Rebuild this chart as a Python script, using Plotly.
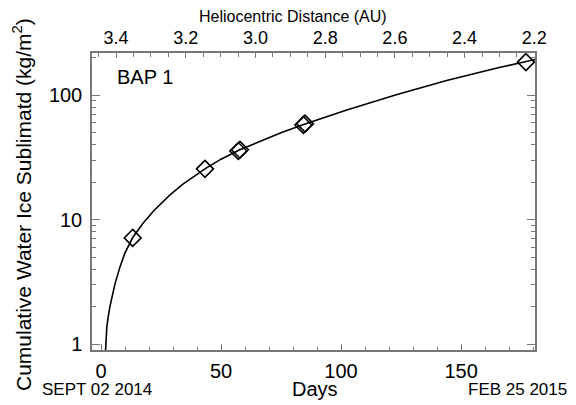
import plotly.graph_objects as go

# ---- data ----
curve_days = [1.9, 2.4, 3.0, 3.75, 5.8, 7.9, 10, 13.2, 17.6, 22, 28.75, 34, 43.3, 50,
              57.6, 69, 75, 85, 102.4, 123, 144, 165, 177, 181]
curve_vals = [0.88, 1.36, 1.66, 2.02, 3.04, 4.18, 5.42, 7.19, 9.4, 11.8, 15.8, 19.2, 25.6, 30.6,
              36.2, 44.8, 49.9, 58.7, 76.0, 100.8, 130.8, 165.0, 185.5, 193.5]
marker_days = [13.2, 43.3, 57.2, 57.9, 84.3, 85.0, 177]
marker_vals = [7.14, 25.6, 35.6, 36.4, 57.6, 59.0, 184]
helio_ticks = [3.4, 3.2, 3.0, 2.8, 2.6, 2.4, 2.2]
helio_range = [3.469, 2.198]
day_range = [-3.75, 180.8]
day_ticks = [0, 50, 100, 150]
y_major = [1, 10, 100]
y_minor = [2, 3, 4, 5, 6, 7, 8, 9, 20, 30, 40, 50, 60, 70, 80, 90, 200]

FONT = "Liberation Sans"
AXC = "#777777"

fig = go.Figure()
fig.add_trace(go.Scatter(x=curve_days, y=curve_vals, mode="lines",
                         line=dict(color="black", width=1.6), showlegend=False))
fig.add_trace(go.Scatter(x=marker_days, y=marker_vals, mode="markers",
                         marker=dict(symbol="diamond-open", size=13, color="black",
                                     line=dict(width=1.6, color="black")),
                         showlegend=False, cliponaxis=False))
# invisible trace to anchor the top axis
fig.add_trace(go.Scatter(x=helio_ticks, y=[1] * len(helio_ticks), xaxis="x2", mode="markers",
                         marker=dict(opacity=0), showlegend=False, hoverinfo="skip"))

L, R, T, B = 92, 535, 53, 350
W, H = 576, 405
pw, ph = R - L, B - T

def px(x):
    return (x - L) / pw

def py(y):
    return (B - y) / ph

fig.update_layout(
    width=W, height=H,
    margin=dict(l=L, r=W - R, t=T, b=H - B),
    paper_bgcolor="white", plot_bgcolor="white",
    font=dict(family=FONT, color="black", size=20),
    xaxis=dict(range=day_range, showline=True, linecolor=AXC, linewidth=1.5,
               showgrid=False, zeroline=False, ticks="inside", ticklen=6, tickwidth=1,
               tickcolor=AXC, tickvals=day_ticks,
               tickfont=dict(size=20, family=FONT), ticklabelstandoff=2,
               minor=dict(ticks="inside", dtick=10, tick0=0, ticklen=3, tickcolor=AXC, tickwidth=1),
               mirror=False),
    xaxis2=dict(range=helio_range, overlaying="x", side="top", anchor="y",
                showline=True, linecolor=AXC, linewidth=1.5, showgrid=False, zeroline=False,
                ticks="inside", ticklen=5, tickwidth=1, tickcolor=AXC,
                tickvals=helio_ticks, ticktext=["%.1f" % v for v in helio_ticks],
                tickfont=dict(size=18, family=FONT),
                minor=dict(ticks="inside", dtick=0.05, tick0=2.2, ticklen=4, tickcolor=AXC, tickwidth=1)),
    yaxis=dict(type="log", range=[-0.046, 2.338], showline=True, linecolor=AXC, linewidth=1.5,
               showgrid=False, zeroline=False, ticks="inside", ticklen=8, tickwidth=1,
               tickcolor=AXC, tickvals=y_major, ticktext=[str(v) for v in y_major],
               tickfont=dict(size=20, family=FONT), mirror="ticks", ticklabelstandoff=4,
               minor=dict(ticks="inside", tickvals=y_minor, ticklen=4, tickcolor=AXC, tickwidth=1)),
    showlegend=False,
)

ann = [
    dict(text="Heliocentric Distance (AU)", x=px(292.5), y=py(16), size=16, xa="center"),
    dict(text="BAP 1", x=px(115), y=py(77), size=20, xa="left"),
    dict(text="Days", x=px(315), y=py(389), size=20, xa="center"),
    dict(text="SEPT 02 2014", x=px(40), y=py(389), size=17, xa="left"),
    dict(text="FEB 25 2015", x=px(569), y=py(389), size=17, xa="right"),
]
for a in ann:
    fig.add_annotation(text=a["text"], x=a["x"], y=a["y"], xref="paper", yref="paper",
                       xanchor=a["xa"], yanchor="middle", showarrow=False,
                       font=dict(size=a["size"], family=FONT, color="black"))
fig.add_annotation(text="Cumulative Water Ice Sublimatd (kg/m<sup>2</sup>)",
                   x=px(22), y=py(205), xref="paper", yref="paper", textangle=-90,
                   xanchor="center", yanchor="middle", showarrow=False,
                   font=dict(size=21, family=FONT, color="black"))

fig.write_html("out.html", config={"displayModeBar": False},
               post_script="document.body.style.margin='0';document.body.style.padding='0';")
